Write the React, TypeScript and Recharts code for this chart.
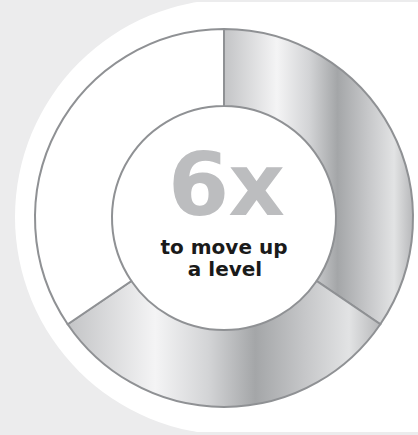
import { PieChart, Pie, Cell, Label } from "recharts";

// ring segments, clockwise from 12 o'clock
const segments = ["step 1", "step 2", "step 3"];
const shares = [34.5, 31, 34.5];
const filled = [true, true, false];

const bigLabel = "6x";
const subLabel = ["to move up", "a level"];

const data = segments.map((name, i) => ({ name, value: shares[i] }));

function CenterText(props: any) {
  const vb = props.viewBox || {};
  const cx = vb.cx ?? 224;
  const cy = vb.cy ?? 218;
  return (
    <g>
      <text
        x={cx + 2}
        y={cy - 3}
        textAnchor="middle"
        fill="#bcbdbf"
        fontFamily="DejaVu Sans"
        fontWeight={700}
        fontSize={88}
        letterSpacing={-1}
      >
        {bigLabel}
      </text>
      <text
        x={cx}
        y={cy + 36}
        textAnchor="middle"
        fill="#1a1a1a"
        fontFamily="DejaVu Sans"
        fontWeight={700}
        fontSize={20}
      >
        {subLabel[0]}
      </text>
      <text
        x={cx + 1}
        y={cy + 58}
        textAnchor="middle"
        fill="#1a1a1a"
        fontFamily="DejaVu Sans"
        fontWeight={700}
        fontSize={20}
      >
        {subLabel[1]}
      </text>
    </g>
  );
}

export default function App() {
  return (
    <div
      style={{
        position: "relative",
        width: 418,
        height: 435,
        background: "#ececed",
        overflow: "hidden",
      }}
    >
      <style>{"body{margin:0}"}</style>
      {/* white backdrop with rounded left side */}
      <div
        style={{
          position: "absolute",
          left: 0,
          top: 2,
          width: 418,
          height: 430,
          overflow: "hidden",
        }}
      >
        <div
          style={{
            position: "absolute",
            left: 15,
            top: -3,
            width: 520,
            height: 436,
            background: "#ffffff",
            borderRadius: "218px 0 0 218px",
          }}
        />
      </div>
      <div style={{ position: "absolute", left: 0, top: 0 }}>
        <PieChart
          width={418}
          height={435}
          margin={{ top: 0, right: 0, bottom: 0, left: 0 }}
        >
          <defs>
            <linearGradient id="silver" x1="0" y1="0" x2="1" y2="0">
              <stop offset="0" stopColor="#c3c4c6" />
              <stop offset="0.28" stopColor="#f4f4f5" />
              <stop offset="0.45" stopColor="#d3d4d6" />
              <stop offset="0.6" stopColor="#a4a6a8" />
              <stop offset="0.76" stopColor="#c6c7c9" />
              <stop offset="0.9" stopColor="#e2e3e4" />
              <stop offset="1" stopColor="#b7b8ba" />
            </linearGradient>
          </defs>
          <Pie
            data={data}
            dataKey="value"
            nameKey="name"
            cx={224}
            cy={218}
            innerRadius={112}
            outerRadius={189}
            startAngle={90}
            endAngle={-270}
            stroke="#8f9194"
            strokeWidth={2}
            isAnimationActive={false}
          >
            {data.map((d, i) => (
              <Cell key={d.name} fill={filled[i] ? "url(#silver)" : "#ffffff"} />
            ))}
            <Label position="center" content={CenterText} />
          </Pie>
        </PieChart>
      </div>
    </div>
  );
}
